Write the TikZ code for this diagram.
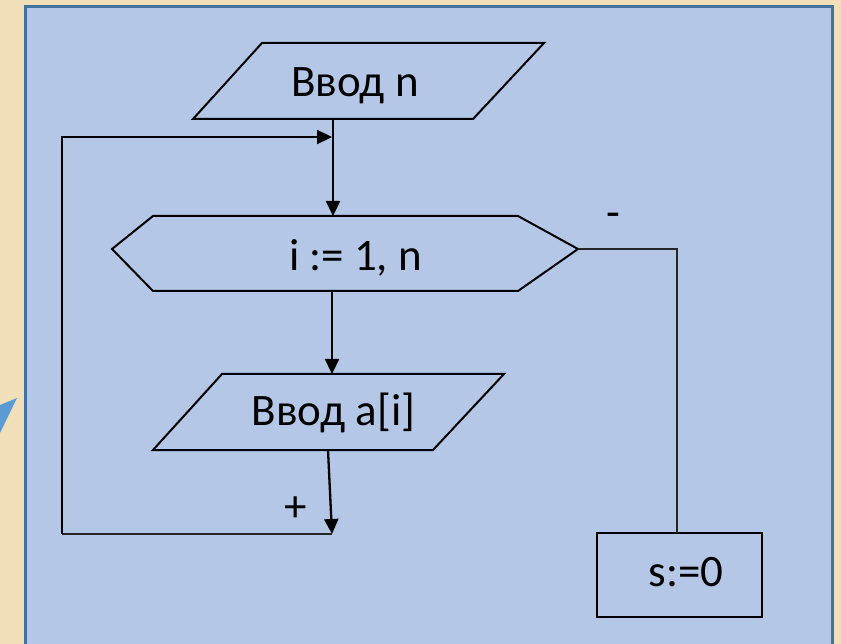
\documentclass[tikz,border=0pt]{standalone}
\usepackage{fontspec}
\setmainfont{Carlito}
\usetikzlibrary{arrows.meta}
\definecolor{bgc}{RGB}{240,223,184}
\definecolor{panel}{RGB}{180,199,231}
\definecolor{borderc}{RGB}{65,113,158}
\definecolor{tric}{RGB}{91,155,213}
\begin{document}
\begin{tikzpicture}[x=1pt,y=-1pt,
  blk/.style={draw=black,line width=2pt,fill=panel,line join=miter},
  conn/.style={draw=black,line width=2.3pt,-{Triangle[length=15pt,width=14pt]}},
  thin/.style={draw=black!85,line width=1.5pt},
  lbl/.style={font=\fontsize{45}{54}\selectfont,inner sep=0pt,anchor=base}]
\fill[bgc] (0,0) rectangle (841,644);
\useasboundingbox (0,0) rectangle (841,644);
\fill[tric] (17,398) -- (0,405) -- (0,433) -- cycle;
\draw[fill=panel,draw=borderc,line width=3pt] (25.5,6.5) rectangle (832.5,670);
% shapes
\draw[blk] (262,43) -- (544,43) -- (473,119) -- (193,119) -- cycle;
\draw[blk] (153,216) -- (518,216) -- (578,249) -- (518,291) -- (153,291) -- (112,249) -- cycle;
\draw[blk] (222,374) -- (504,374) -- (433,450) -- (153,450) -- cycle;
\draw[blk] (597,533) rectangle (762,617);
% texts
\node[lbl] (tn) at (355,97) {Ввод n};
\node[lbl] (tloop) at (355.5,271) {i := 1, n};
\node[lbl] (ta) at (333.5,425) {Ввод a[i]};
\node[lbl] (ts) at (686,586) {s:=0};
\node[font=\fontsize{45}{54}\selectfont,inner sep=0pt] (tminus) at (613,220) {-};
\node[font=\fontsize{45}{54}\selectfont,inner sep=0pt] (tplus) at (296,509) {+};
% connection points
\coordinate (nbot) at (333,119);
\coordinate (hextop) at (333,216);
\coordinate (hexbot) at (332,291);
\coordinate (hexright) at (578,249);
\coordinate (atop) at (332,374);
\coordinate (abot) at (328,450);
\coordinate (loopend) at (332,534);
\coordinate (loopin) at (333,137);
\coordinate (corner) at (677,249);
\coordinate (stop) at (677,533);
% connectors
\draw[conn] (nbot) -- (hextop);
\draw[conn] (hexbot) -- (atop);
\draw[conn] (abot) -- (loopend);
\draw[thin] (loopend) -- (62,534);
\draw[conn,shorten >=1pt] (62,534) |- (loopin);
\draw[thin] (hexright) -- (corner) -- (stop);
\end{tikzpicture}
\end{document}
